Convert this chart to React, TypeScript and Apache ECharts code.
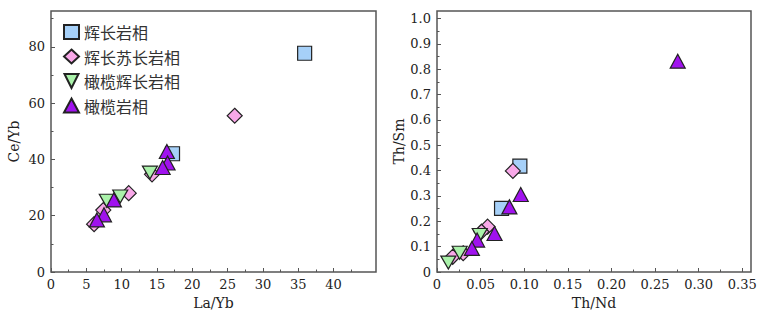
import React, { useEffect, useRef } from 'react';
import * as echarts from 'echarts';

// Series (legend) names
const seriesNames = ['辉长岩相', '辉长苏长岩相', '橄榄辉长岩相', '橄榄岩相'];

// Left panel: La/Yb vs Ce/Yb
const gabbroLaYb = [35.9, 17.2];
const gabbroCeYb = [77.7, 42.0];
const gabbronoriteLaYb = [26.0, 11.0, 14.3, 7.4, 6.1];
const gabbronoriteCeYb = [55.5, 28.0, 34.7, 22.0, 17.0];
const olivineGabbroLaYb = [14.0, 7.9, 9.8];
const olivineGabbroCeYb = [35.3, 25.3, 26.8];
const peridotiteLaYb = [16.4, 16.5, 15.8, 8.9, 7.5, 6.5];
const peridotiteCeYb = [42.8, 38.7, 37.1, 25.6, 20.3, 18.5];

// Right panel: Th/Nd vs Th/Sm
const gabbroThNd = [0.095, 0.074];
const gabbroThSm = [0.418, 0.251];
const gabbronoriteThNd = [0.087, 0.058, 0.051, 0.030, 0.018];
const gabbronoriteThSm = [0.399, 0.179, 0.159, 0.074, 0.060];
const olivineGabbroThNd = [0.049, 0.026, 0.013];
const olivineGabbroThSm = [0.146, 0.076, 0.037];
const peridotiteThNd = [0.276, 0.096, 0.083, 0.066, 0.046, 0.040];
const peridotiteThSm = [0.832, 0.306, 0.257, 0.152, 0.126, 0.093];

// Tick values
const leftXMajor = [0, 5, 10, 15, 20, 25, 30, 35, 40];
const leftXMinor = [2.5, 7.5, 12.5, 17.5, 22.5, 27.5, 32.5, 37.5, 42.5];
const leftYMajor = [0, 20, 40, 60, 80];
const leftYMinor = [10, 30, 50, 70, 90];
const rightXMajor = [0, 0.05, 0.1, 0.15, 0.2, 0.25, 0.3, 0.35];
const rightXMinor = [0.025, 0.075, 0.125, 0.175, 0.225, 0.275, 0.325];
const rightYMajor = [0, 0.1, 0.2, 0.3, 0.4, 0.5, 0.6, 0.7, 0.8, 0.9, 1.0];
const rightYMinor = [0.05, 0.15, 0.25, 0.35, 0.45, 0.55, 0.65, 0.75, 0.85, 0.95];

const zip = (a: number[], b: number[]) => a.map((v, i) => [v, b[i]]);

const AXIS_COLOR = '#555';
const LABEL_FONT = 'DejaVu Serif';
const triDown = 'path://M0,0L10,0L5,10Z';

const styles = [
  { symbol: 'rect', size: [14, 14], color: '#a6d0f8' },
  { symbol: 'diamond', size: [15, 15], color: '#f8a8e8' },
  { symbol: triDown, size: [15, 13], color: '#aaf2aa' },
  { symbol: 'triangle', size: [15, 14], color: '#a012ee' },
];

function mainAxis(dim: 'x' | 'y', gridIndex: number, min: number, max: number, interval: number, major: number[], fmt: (v: number) => string, name: string, nameGap: number) {
  return {
    type: 'value',
    gridIndex,
    min,
    max,
    interval,
    position: dim === 'x' ? 'bottom' : 'left',
    name,
    nameLocation: 'middle',
    nameGap,
    nameTextStyle: { fontFamily: LABEL_FONT, fontSize: 14, color: '#222' },
    axisLine: { show: false },
    splitLine: { show: false },
    axisTick: { show: true, inside: true, length: 4, customValues: major, lineStyle: { color: AXIS_COLOR, width: 1 } },
    axisLabel: { show: true, customValues: major, formatter: fmt, fontFamily: LABEL_FONT, fontSize: 13, color: '#222', margin: 6 },
  };
}

function minorAxis(dim: 'x' | 'y', gridIndex: number, min: number, max: number, minor: number[]) {
  return {
    type: 'value',
    gridIndex,
    min,
    max,
    position: dim === 'x' ? 'bottom' : 'left',
    axisLine: { show: false },
    splitLine: { show: false },
    axisLabel: { show: false },
    axisTick: { show: true, inside: true, length: 2.5, customValues: minor, lineStyle: { color: AXIS_COLOR, width: 1 } },
  };
}

const leftData = [
  zip(gabbroLaYb, gabbroCeYb),
  zip(gabbronoriteLaYb, gabbronoriteCeYb),
  zip(olivineGabbroLaYb, olivineGabbroCeYb),
  zip(peridotiteLaYb, peridotiteCeYb),
];
const rightData = [
  zip(gabbroThNd, gabbroThSm),
  zip(gabbronoriteThNd, gabbronoriteThSm),
  zip(olivineGabbroThNd, olivineGabbroThSm),
  zip(peridotiteThNd, peridotiteThSm),
];

export default function App() {
  const ref = useRef<HTMLDivElement>(null);
  useEffect(() => {
    if (!ref.current) return;
    const chart = echarts.init(ref.current, null, { renderer: 'svg' });
    const mkSeries = (data: number[][][], xi: number, yi: number) =>
      data.map((d, i) => ({
        type: 'scatter',
        name: seriesNames[i],
        xAxisIndex: xi,
        yAxisIndex: yi,
        data: d,
        symbol: styles[i].symbol,
        symbolSize: styles[i].size,
        itemStyle: { color: styles[i].color, borderColor: '#222', borderWidth: 1.2, opacity: 1 },
        emphasis: { disabled: true },
        z: 2 + i,
      }));
    chart.setOption({
      animation: false,
      backgroundColor: '#fff',
      legend: {
        data: seriesNames,
        orient: 'vertical',
        left: 58,
        top: 19,
        itemWidth: 15,
        itemHeight: 14,
        itemGap: 8.5,
        textStyle: { fontFamily: 'Noto Sans CJK SC', fontSize: 16, color: '#333', lineHeight: 16 },
      },
      grid: [
        { left: 51, top: 11, width: 325, height: 261, show: true, borderColor: AXIS_COLOR, borderWidth: 1.5, backgroundColor: 'transparent' },
        { left: 437, top: 11, width: 314, height: 261, show: true, borderColor: AXIS_COLOR, borderWidth: 1.5, backgroundColor: 'transparent' },
      ],
      xAxis: [
        mainAxis('x', 0, 0, 46, 5, leftXMajor, (v: number) => String(v), 'La/Yb', 18),
        minorAxis('x', 0, 0, 46, leftXMinor),
        mainAxis('x', 1, 0, 0.36, 0.05, rightXMajor, (v: number) => (v === 0 ? '0' : v.toFixed(2)), 'Th/Nd', 18),
        minorAxis('x', 1, 0, 0.36, rightXMinor),
      ],
      yAxis: [
        mainAxis('y', 0, 0, 92.7, 20, leftYMajor, (v: number) => String(v), 'Ce/Yb', 30),
        minorAxis('y', 0, 0, 92.7, leftYMinor),
        mainAxis('y', 1, 0, 1.03, 0.1, rightYMajor, (v: number) => (v === 0 ? '0' : v.toFixed(1)), 'Th/Sm', 26),
        minorAxis('y', 1, 0, 1.03, rightYMinor),
      ],
      series: [...mkSeries(leftData, 0, 0), ...mkSeries(rightData, 2, 2)],
    });
    return () => chart.dispose();
  }, []);
  return <div ref={ref} style={{ position: 'absolute', left: 0, top: 0, width: 770, height: 316 }} />;
}
